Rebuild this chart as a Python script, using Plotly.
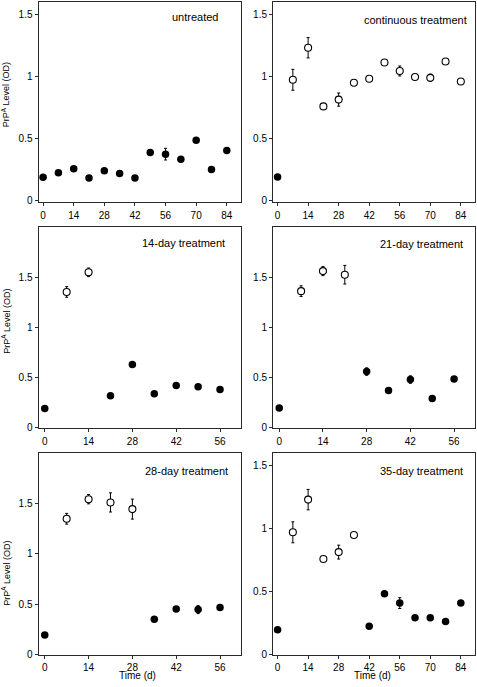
import plotly.graph_objects as go

# ---------------- data ----------------
days84 = [0, 7, 14, 21, 28, 35, 42, 49, 56, 63, 70, 77, 84]
days56 = [0, 7, 14, 21, 28, 35, 42, 49, 56]

untreated_y = [0.19, 0.226, 0.258, 0.185, 0.242, 0.22, 0.185, 0.39, 0.376, 0.336, 0.487, 0.253, 0.406]
untreated_err = [0, 0, 0, 0, 0, 0, 0, 0, 0.047, 0, 0, 0, 0]

continuous_y = [0.193, 0.974, 1.232, 0.76, 0.815, 0.95, 0.982, 1.113, 1.045, 0.997, 0.99, 1.121, 0.96]
continuous_err = [0, 0.084, 0.082, 0, 0.053, 0, 0, 0, 0.04, 0, 0.03, 0, 0]

day14_y = [0.19, 1.355, 1.551, 0.319, 0.631, 0.339, 0.422, 0.409, 0.382]
day14_err = [0, 0.053, 0.043, 0, 0, 0, 0, 0, 0]

day21_y = [0.197, 1.363, 1.563, 1.527, 0.56, 0.37, 0.48, 0.29, 0.487]
day21_err = [0, 0.053, 0.045, 0.093, 0.037, 0, 0.037, 0, 0]

day28_y = [0.194, 1.345, 1.539, 1.507, 1.441, 0.35, 0.451, 0.445, 0.465]
day28_err = [0, 0.053, 0.046, 0.095, 0.099, 0, 0, 0.04, 0]

day35_y = [0.196, 0.969, 1.228, 0.757, 0.812, 0.948, 0.225, 0.482, 0.408, 0.291, 0.291, 0.262, 0.408]
day35_err = [0, 0.083, 0.081, 0, 0.055, 0, 0, 0, 0.043, 0, 0, 0, 0]

panel_titles = ["untreated", "continuous treatment", "14-day treatment",
                "21-day treatment", "28-day treatment", "35-day treatment"]
treatment_end = [0, 84, 14, 21, 28, 35]   # points with 0 < day <= end are drawn open
y_ticks = [0, 0.5, 1, 1.5]
y_tick_labels = ["0", "0.5", "1", "1.5"]
x_ticks84 = [0, 14, 28, 42, 56, 70, 84]
x_ticks56 = [0, 14, 28, 42, 56]

panels = [
    (days84, untreated_y, untreated_err),
    (days84, continuous_y, continuous_err),
    (days56, day14_y, day14_err),
    (days56, day21_y, day21_err),
    (days56, day28_y, day28_err),
    (days84, day35_y, day35_err),
]

# ---------------- layout geometry (pixels) ----------------
W, H = 477, 687
col_px = [(38.5, 241.0), (273.0, 475.0)]
row_px = [(2.0, 203.0), (229.0, 431.5), (456.0, 660.0)]
ylabel_center = [96, 324, 578]
title_pos = [(194.5, 17), (415, 20), (183.7, 245), (421.3, 246), (186, 474), (421.3, 474)]

FONT = "Liberation Sans, Arial, Helvetica, sans-serif"
LINE = "#2a2a2a"

fig = go.Figure()
for i, (xs, ys, errs) in enumerate(panels):
    end = treatment_end[i]
    open_idx = [k for k, d in enumerate(xs) if 0 < d <= end]
    fill_idx = [k for k, d in enumerate(xs) if not (0 < d <= end)]
    ax = "" if i == 0 else str(i + 1)
    for idx, is_open in ((fill_idx, False), (open_idx, True)):
        if not idx:
            continue
        fig.add_trace(go.Scatter(
            x=[xs[k] for k in idx], y=[ys[k] for k in idx],
            mode="markers",
            error_y=dict(type="data", array=[errs[k] for k in idx], visible=True,
                         color="black", thickness=1, width=1.5),
            marker=dict(size=7.5 if not is_open else 7,
                        color="white" if is_open else "black",
                        line=dict(color="black", width=1.1 if is_open else 0)),
            xaxis="x" + ax, yaxis="y" + ax, showlegend=False, hoverinfo="x+y"))

layout = dict(width=W, height=H, margin=dict(l=0, r=0, t=0, b=0),
              paper_bgcolor="white", plot_bgcolor="white",
              font=dict(family=FONT, size=10, color="black"), annotations=[])

for i, (xs, ys, errs) in enumerate(panels):
    r, c = divmod(i, 2)
    x0, x1 = col_px[c]
    top, bot = row_px[r]
    ax = "" if i == 0 else str(i + 1)
    long_axis = xs is days84
    xr = [-2.1, 90.5] if long_axis else [-2.0, 62.7]
    yr = [-0.005, 1.6] if long_axis else [-0.007, 2.0]
    common = dict(showline=True, mirror=True, linecolor=LINE, linewidth=1,
                  ticks="outside", ticklen=3, tickwidth=1, tickcolor=LINE,
                  showgrid=False, zeroline=False, fixedrange=True,
                  tickfont=dict(family=FONT, size=10, color="black"))
    layout["xaxis" + ax] = dict(common, domain=[x0 / W, x1 / W], range=xr,
                                tickvals=x_ticks84 if long_axis else x_ticks56,
                                ticklabelstandoff=0 if r == 2 else 1, anchor="y" + ax)
    layout["yaxis" + ax] = dict(common, domain=[1 - bot / H, 1 - top / H], range=yr,
                                tickvals=y_ticks, ticktext=y_tick_labels,
                                anchor="x" + ax)
    tx, ty = title_pos[i]
    layout["annotations"].append(dict(
        text=panel_titles[i], x=tx / W, y=1 - ty / H, xref="paper", yref="paper",
        xanchor="center", yanchor="middle", showarrow=False,
        font=dict(family=FONT, size=11, color="black")))
    if c == 0:
        layout["annotations"].append(dict(
            text="PrP<sup>A</sup> Level (OD)", x=6 / W, y=1 - ylabel_center[r] / H,
            xref="paper", yref="paper", xanchor="center", yanchor="middle",
            textangle=-90, showarrow=False,
            font=dict(family=FONT, size=9, color="black")))
    if r == 2:
        layout["annotations"].append(dict(
            text="Time (d)", x=(x0 + x1) / 2 / W - 0.004, y=0.0,
            xref="paper", yref="paper", xanchor="center", yanchor="bottom",
            borderpad=0, showarrow=False,
            font=dict(family=FONT, size=10, color="black")))

fig.update_layout(**layout)
fig.write_html("out.html",
               config={"displayModeBar": False, "staticPlot": True},
               post_script="document.body.style.margin='0px';"
                           "document.body.style.overflow='hidden';")
